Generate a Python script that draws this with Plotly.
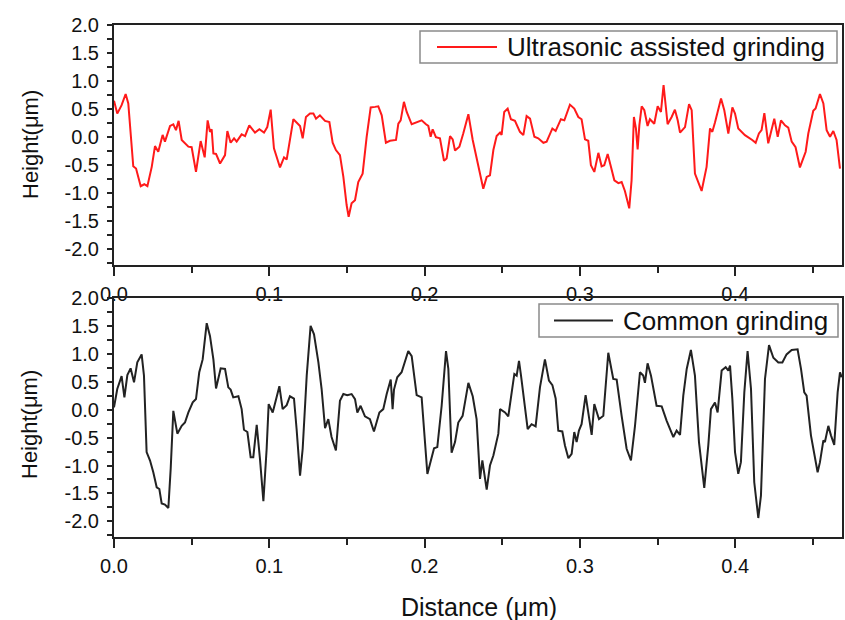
import plotly.graph_objects as go

# ---- Ultrasonic assisted grinding (top panel) ----
ua_x = [0.0000, 0.0021, 0.0049, 0.0075, 0.0092, 0.0107, 0.0124, 0.0142, 0.0172, 0.0195,
        0.0215, 0.0243, 0.0264, 0.0285, 0.0313, 0.0328, 0.0361, 0.0382, 0.0399, 0.0416,
        0.0436, 0.0479, 0.0500, 0.0528, 0.0558, 0.0584, 0.0603, 0.0618, 0.0629, 0.0640,
        0.0657, 0.0683, 0.0715, 0.0730, 0.0751, 0.0773, 0.0790, 0.0822, 0.0844, 0.0871,
        0.0908, 0.0936, 0.0966, 0.0987, 0.1009, 0.1030, 0.1069, 0.1095, 0.1112, 0.1155,
        0.1187, 0.1198, 0.1215, 0.1236, 0.1262, 0.1284, 0.1301, 0.1326, 0.1359, 0.1387,
        0.1408, 0.1429, 0.1455, 0.1477, 0.1498, 0.1511, 0.1530, 0.1552, 0.1573, 0.1601,
        0.1627, 0.1653, 0.1681, 0.1702, 0.1724, 0.1751, 0.1777, 0.1816, 0.1831, 0.1846,
        0.1867, 0.1885, 0.1917, 0.1949, 0.1981, 0.2009, 0.2024, 0.2039, 0.2052, 0.2073,
        0.2099, 0.2125, 0.2142, 0.2164, 0.2181, 0.2196, 0.2224, 0.2249, 0.2282, 0.2310,
        0.2350, 0.2378, 0.2400, 0.2421, 0.2443, 0.2464, 0.2486, 0.2496, 0.2513, 0.2535,
        0.2556, 0.2582, 0.2614, 0.2636, 0.2657, 0.2679, 0.2707, 0.2732, 0.2765, 0.2786,
        0.2823, 0.2844, 0.2878, 0.2900, 0.2936, 0.2964, 0.2990, 0.3011, 0.3033, 0.3054,
        0.3071, 0.3093, 0.3119, 0.3140, 0.3157, 0.3179, 0.3200, 0.3222, 0.3248, 0.3269,
        0.3290, 0.3318, 0.3333, 0.3348, 0.3361, 0.3372, 0.3383, 0.3398, 0.3415, 0.3436,
        0.3451, 0.3479, 0.3501, 0.3522, 0.3539, 0.3552, 0.3565, 0.3591, 0.3612, 0.3630,
        0.3645, 0.3677, 0.3703, 0.3720, 0.3741, 0.3784, 0.3816, 0.3838, 0.3853, 0.3870,
        0.3909, 0.3930, 0.3956, 0.3982, 0.3999, 0.4020, 0.4063, 0.4110, 0.4132, 0.4153,
        0.4170, 0.4188, 0.4213, 0.4252, 0.4274, 0.4295, 0.4321, 0.4342, 0.4364, 0.4389,
        0.4417, 0.4454, 0.4471, 0.4503, 0.4518, 0.4546, 0.4568, 0.4589, 0.4611, 0.4632,
        0.4653, 0.4675]
ua_y = [0.65, 0.42, 0.57, 0.77, 0.60, 0.00, -0.52, -0.56, -0.875, -0.84,
        -0.875, -0.53, -0.16, -0.26, 0.04, -0.08, 0.20, 0.23, 0.125, 0.29,
        -0.05, -0.17, -0.18, -0.62, -0.07, -0.36, 0.30, 0.095, 0.14, -0.29,
        -0.30, -0.47, -0.32, 0.11, -0.10, -0.02, -0.08, 0.05, 0.02, 0.21,
        0.08, 0.14, 0.08, 0.18, 0.49, -0.20, -0.54, -0.36, -0.40, 0.32,
        0.24, 0.20, -0.02, 0.36, 0.42, 0.42, 0.33, 0.39, 0.29, 0.27,
        -0.10, -0.23, -0.32, -0.71, -1.21, -1.42, -1.18, -1.125, -0.80, -0.65,
        0.006, 0.53, 0.54, 0.55, 0.39, -0.10, -0.065, -0.05, 0.24, 0.30,
        0.63, 0.45, 0.23, 0.26, 0.30, 0.23, 0.20, 0.006, 0.14, 0.00,
        -0.02, -0.42, -0.38, 0.02, -0.04, -0.24, -0.17, 0.065, 0.41, -0.05,
        -0.53, -0.92, -0.71, -0.68, -0.23, 0.02, 0.08, 0.04, 0.45, 0.51,
        0.32, 0.29, 0.095, 0.036, 0.375, 0.33, 0.006, -0.02, -0.10, -0.08,
        0.155, 0.11, 0.32, 0.30, 0.58, 0.51, 0.36, 0.32, -0.04, -0.065,
        -0.50, -0.62, -0.28, -0.52, -0.50, -0.30, -0.53, -0.77, -0.82, -0.80,
        -0.96, -1.27, -0.77, 0.36, 0.155, -0.22, 0.21, 0.55, 0.48, 0.20,
        0.32, 0.24, 0.55, 0.45, 0.93, 0.54, 0.23, 0.36, 0.49, 0.30,
        0.08, 0.18, 0.59, 0.48, -0.65, -0.96, -0.53, 0.155, 0.095, 0.26,
        0.69, 0.48, 0.065, 0.53, 0.42, 0.155, 0.036, -0.05, -0.10, 0.065,
        0.125, 0.43, -0.11, 0.33, 0.006, 0.30, 0.21, 0.17, -0.08, -0.18,
        -0.54, -0.26, 0.065, 0.47, 0.51, 0.77, 0.60, 0.125, 0.006, 0.11,
        -0.05, -0.56]

# ---- Common grinding (bottom panel) ----
cg_x = [0.0000, 0.0021, 0.0049, 0.0067, 0.0086, 0.0107, 0.0129, 0.0150, 0.0178, 0.0193,
        0.0210, 0.0232, 0.0253, 0.0275, 0.0292, 0.0307, 0.0328, 0.0350, 0.0365, 0.0382,
        0.0408, 0.0436, 0.0457, 0.0479, 0.0507, 0.0528, 0.0549, 0.0571, 0.0597, 0.0618,
        0.0640, 0.0657, 0.0687, 0.0715, 0.0736, 0.0751, 0.0768, 0.0801, 0.0822, 0.0837,
        0.0859, 0.0880, 0.0897, 0.0919, 0.0940, 0.0962, 0.0983, 0.0996, 0.1022, 0.1047,
        0.1065, 0.1086, 0.1112, 0.1133, 0.1159, 0.1176, 0.1198, 0.1215, 0.1241, 0.1266,
        0.1288, 0.1316, 0.1337, 0.1359, 0.1380, 0.1401, 0.1429, 0.1455, 0.1477, 0.1502,
        0.1530, 0.1552, 0.1567, 0.1588, 0.1616, 0.1648, 0.1674, 0.1709, 0.1734, 0.1756,
        0.1782, 0.1794, 0.1803, 0.1824, 0.1852, 0.1895, 0.1917, 0.1949, 0.1981, 0.2018,
        0.2039, 0.2061, 0.2082, 0.2110, 0.2138, 0.2153, 0.2174, 0.2196, 0.2217, 0.2245,
        0.2282, 0.2310,
        0.2335, 0.2357, 0.2372, 0.2400, 0.2421, 0.2443, 0.2475, 0.2486, 0.2518, 0.2539,
        0.2561, 0.2578, 0.2593, 0.2608, 0.2621, 0.2642, 0.2664, 0.2689, 0.2715, 0.2743,
        0.2775, 0.2801, 0.2823, 0.2844, 0.2861, 0.2887, 0.2904, 0.2926, 0.2947, 0.2964,
        0.2979, 0.2994, 0.3011, 0.3037, 0.3054, 0.3076, 0.3093, 0.3108, 0.3123, 0.3151,
        0.3183, 0.3215, 0.3237, 0.3269, 0.3301, 0.3329, 0.3355, 0.3387, 0.3408, 0.3419,
        0.3436, 0.3458, 0.3494, 0.3527, 0.3559, 0.3602, 0.3623, 0.3645, 0.3666, 0.3688,
        0.3715, 0.3741, 0.3767, 0.3801, 0.3827, 0.3844, 0.3870, 0.3887, 0.3913, 0.3939,
        0.3956, 0.3967, 0.3982, 0.3999, 0.4020, 0.4037, 0.4059, 0.4080, 0.4102, 0.4123,
        0.4149, 0.4166, 0.4192, 0.4218, 0.4246, 0.4278, 0.4304, 0.4331, 0.4364, 0.4402,
        0.4424, 0.4445, 0.4460, 0.4488, 0.4514, 0.4531, 0.4546, 0.4568, 0.4578, 0.4600,
        0.4617, 0.4638, 0.4660, 0.4675, 0.4686]
cg_y = [0.04, 0.37, 0.60, 0.22, 0.62, 0.74, 0.49, 0.85, 0.99, 0.61,
        -0.76, -0.91, -1.12, -1.39, -1.42, -1.68, -1.70, -1.76, -1.06, -0.02,
        -0.43, -0.29, -0.23, -0.05, 0.13, 0.19, 0.67, 0.90, 1.55, 1.32,
        0.90, 0.38, 0.74, 0.73, 0.40, 0.36, 0.22, 0.24, 0.01, -0.36,
        -0.40, -0.85, -0.85, -0.27, -0.88, -1.64, -0.70, 0.10, -0.05, 0.24,
        0.42, 0.01, 0.08, 0.24, 0.20, -0.35, -1.18, -0.70, 0.61, 1.50,
        1.35, 0.85, 0.37, -0.33, -0.17, -0.49, -0.73, 0.16, 0.28, 0.26,
        0.28, 0.19, -0.05, 0.07, -0.12, -0.17, -0.39, -0.05, 0.01, 0.28,
        0.54, 0.01, 0.36, 0.58, 0.67, 1.05, 0.96, 0.26, 0.22, -1.15,
        -0.94, -0.69, -0.67, 0.07, 1.05, 0.73, -0.77, -0.58, -0.23, -0.11,
        0.48, 0.24,
        -0.17, -1.24, -0.91, -1.43, -1.00, -0.82, -0.43, 0.01, -0.05, -0.12,
        0.31, 0.64, 0.61, 0.875, 0.61, 0.16, -0.35, -0.26, -0.30, 0.40,
        0.90, 0.52, 0.44, 0.20, -0.375, -0.39, -0.64, -0.87, -0.79, -0.40,
        -0.58, -0.375, -0.26, 0.26, -0.05, -0.45, 0.10, -0.02, -0.17, -0.11,
        1.02, 0.55, 0.54, -0.11, -0.70, -0.91, -0.29, 0.67, 0.61, 0.48,
        0.83, 0.61, 0.07, 0.06, -0.20, -0.49, -0.375, -0.45, 0.25, 0.73,
        1.07, 0.61, -0.58, -1.40, -0.64, 0.01, 0.13, -0.05, 0.70, 0.76,
        0.70, 0.79, 0.19, -0.76, -1.15, -0.94, 0.31, 1.05, 0.37, -1.30,
        -1.94, -1.54, 0.55, 1.155, 0.93, 0.845, 0.845, 0.99, 1.07, 1.08,
        0.73, 0.31, 0.25, -0.46, -0.82, -1.12, -0.94, -0.55, -0.58, -0.29,
        -0.46, -0.63, 0.31, 0.67, 0.58]

series_names = ["Ultrasonic assisted grinding", "Common grinding"]
series_colors = ["#ff1a1a", "#222222"]

x_range = [0, 0.4688]
y_range = [-2.28, 2.0]
x_ticks = [0.0, 0.1, 0.2, 0.3, 0.4]
x_ticklabels = ["0.0", "0.1", "0.2", "0.3", "0.4"]
y_ticks = [-2.0, -1.5, -1.0, -0.5, 0.0, 0.5, 1.0, 1.5, 2.0]
y_ticklabels = ["-2.0", "-1.5", "-1.0", "-0.5", "0.0", "0.5", "1.0", "1.5", "2.0"]

FONT = "Arial, Liberation Sans, sans-serif"
TXT = "#111111"
W, H = 845, 620


def px(v):
    return v / W


def py(v):
    return 1 - v / H


xdom = [px(114), px(842)]
top_dom = [py(265), py(25)]
bot_dom = [py(537), py(298)]

fig = go.Figure()
fig.add_trace(go.Scatter(x=ua_x, y=ua_y, mode="lines", name=series_names[0],
                         line=dict(color=series_colors[0], width=2), xaxis="x", yaxis="y",
                         showlegend=False))
fig.add_trace(go.Scatter(x=cg_x, y=cg_y, mode="lines", name=series_names[1],
                         line=dict(color=series_colors[1], width=2), xaxis="x2", yaxis="y2",
                         showlegend=False))

axis_common = dict(showline=True, linecolor="#222222", linewidth=2, mirror=True,
                   showgrid=False, zeroline=False, ticks="outside", tickcolor="#222222",
                   tickwidth=2, tickfont=dict(family=FONT, size=20, color=TXT))

xa = dict(axis_common, range=x_range, tickvals=x_ticks, ticktext=x_ticklabels, ticklen=9,
          ticklabelstandoff=1,
          minor=dict(dtick=0.05, tick0=0, ticklen=6, ticks="outside", tickcolor="#222222",
                     tickwidth=2, showgrid=False))
ya = dict(axis_common, range=y_range, tickvals=y_ticks, ticktext=y_ticklabels, ticklen=5,
          ticklabelstandoff=4,
          minor=dict(dtick=0.25, tick0=0, ticklen=5, ticks="outside", tickcolor="#222222",
                     tickwidth=2, showgrid=False))

# legend boxes (drawn as framed boxes with a line sample and label)
legend_boxes = [
    dict(x0=420, x1=837, y0=31, y1=63, lx0=437, lx1=497, tx=505),
    dict(x0=539, x1=838, y0=304, y1=337, lx0=554, lx1=613, tx=621),
]
shapes = []
annotations = []
for i, b in enumerate(legend_boxes):
    yc = (b["y0"] + b["y1"]) / 2
    shapes.append(dict(type="rect", xref="paper", yref="paper", x0=px(b["x0"]), x1=px(b["x1"]),
                       y0=py(b["y1"]), y1=py(b["y0"]), fillcolor="white",
                       line=dict(color="#8a8a8a", width=1.5), layer="above"))
    shapes.append(dict(type="line", xref="paper", yref="paper", x0=px(b["lx0"]), x1=px(b["lx1"]),
                       y0=py(yc), y1=py(yc), line=dict(color=series_colors[i], width=2),
                       layer="above"))
    annotations.append(dict(text=series_names[i], x=px(b["tx"]), y=py(yc), xref="paper",
                            yref="paper", xanchor="left", yanchor="middle", showarrow=False,
                            font=dict(family=FONT, size=26, color=TXT)))

annotations += [
    dict(text="Height(\u03bcm)", x=px(30), y=py(145), xref="paper", yref="paper",
         xanchor="center", yanchor="middle", textangle=-90, showarrow=False,
         font=dict(family=FONT, size=22, color=TXT)),
    dict(text="Height(\u03bcm)", x=px(30), y=py(425), xref="paper", yref="paper",
         xanchor="center", yanchor="middle", textangle=-90, showarrow=False,
         font=dict(family=FONT, size=22, color=TXT)),
    dict(text="Distance (\u03bcm)", x=px(479), y=py(607), xref="paper", yref="paper",
         xanchor="center", yanchor="middle", showarrow=False,
         font=dict(family=FONT, size=25, color=TXT)),
]

fig.update_layout(
    width=W, height=H, autosize=False,
    margin=dict(l=0, r=0, t=0, b=0, autoexpand=False),
    paper_bgcolor="white", plot_bgcolor="white",
    font=dict(family=FONT, color=TXT),
    xaxis=dict(xa, domain=xdom, anchor="y"),
    yaxis=dict(ya, domain=top_dom, anchor="x"),
    xaxis2=dict(xa, domain=xdom, anchor="y2"),
    yaxis2=dict(ya, domain=bot_dom, anchor="x2"),
    showlegend=False,
    shapes=shapes,
    annotations=annotations,
)

# place the graph at the top-left corner of the page (no page margins)
post = ("document.body.style.margin='0';document.body.style.overflow='hidden';"
        "var gd=document.getElementById('{plot_id}');gd.style.position='fixed';"
        "gd.style.left='0px';gd.style.top='0px';")
fig.write_html("out.html", post_script=post, config={"displayModeBar": False})
